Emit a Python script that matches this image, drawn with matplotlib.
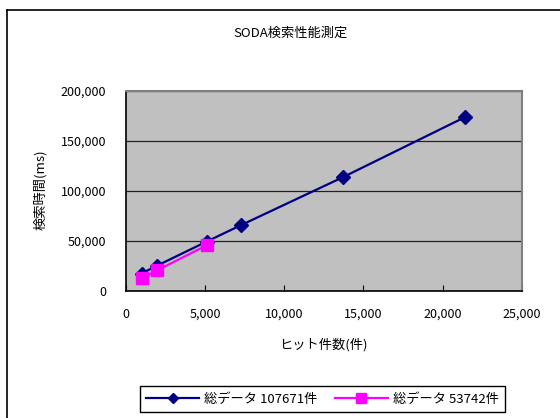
import matplotlib
matplotlib.use('Agg')
import matplotlib.pyplot as plt
from matplotlib.lines import Line2D
from matplotlib.ticker import FuncFormatter

plt.rcParams['font.family'] = ['Noto Sans CJK JP', 'DejaVu Sans']

# data
hits_all = [1000, 2000, 5120, 7300, 13700, 21400]
time_all = [17500, 25500, 49500, 66000, 113700, 173700]
hits_half = [1000, 2000, 5150]
time_half = [12700, 20700, 46000]
label_all = '総データ 107671件'
label_half = '総データ 53742件'

fig = plt.figure(figsize=(5.6, 4.18), dpi=100)
ax = fig.add_axes([125.7/560, 1-291/418, 396/560, 200/418])

ax.set_facecolor('#c0c0c0')
ax.plot(hits_all, time_all, color='#000080', lw=1.6, marker='D', ms=7,
        label=label_all, zorder=3)
ax.plot(hits_half, time_half, color='#ff00ff', lw=1.6, marker='s', ms=9,
        label=label_half, zorder=4)

ax.set_xlim(0, 25000)
ax.set_ylim(0, 200000)
ax.set_xticks(range(0, 25001, 5000))
ax.set_yticks(range(0, 200001, 50000))
fmt = FuncFormatter(lambda v, p: f'{int(v):,}')
ax.xaxis.set_major_formatter(fmt)
ax.yaxis.set_major_formatter(fmt)
ax.grid(axis='y', color='#222222', lw=0.9)
ax.set_axisbelow(True)
ax.tick_params(axis='x', direction='in', length=4, pad=12, labelsize=9)
ax.tick_params(axis='y', length=0, pad=14, labelsize=9)

for s in ['top', 'right']:
    ax.spines[s].set_color('#808080')
    ax.spines[s].set_linewidth(1.5)
for s in ['left', 'bottom']:
    ax.spines[s].set_color('black')
    ax.spines[s].set_linewidth(1.2)

fig.text(290/560, 1-33/418, 'SODA検索性能測定', ha='center', va='center', fontsize=9.5)
fig.text(40/560, 1-190/418, '検索時間(ms)', ha='center', va='center',
         rotation=90, fontsize=9.5)
fig.text(323/560, 1-345/418, 'ヒット件数(件)', ha='center', va='center', fontsize=9.5)

leg = fig.legend(loc='center', bbox_to_anchor=(322.5/560, 1-399/418), ncol=2,
                 fontsize=9.5, fancybox=False, edgecolor='black', framealpha=1,
                 handlelength=4.0, columnspacing=1.3, borderpad=0.5,
                 markerscale=0.8, handletextpad=0.4)
leg.get_frame().set_linewidth(1.0)

# outer chart frame
fig.add_artist(Line2D([7/560, 7/560], [0, 1-10/418], color='black', lw=1.2))
fig.add_artist(Line2D([7/560, 1], [1-10/418, 1-10/418], color='black', lw=1.2))

fig.savefig('out.png', dpi=100)
